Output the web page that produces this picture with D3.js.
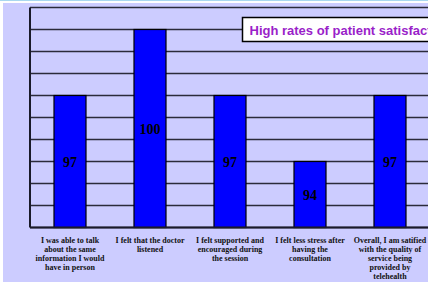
<!DOCTYPE html>
<html>
<head>
<meta charset="utf-8">
<script src="https://cdn.jsdelivr.net/npm/d3@7"></script>
<style>
  body { margin: 0; background: #fff; }
  svg { display: block; }
</style>
</head>
<body>
<script>
// survey items (split into the lines shown under each bar)
const categories = [
  ["I was able to talk", "about the same", "information I would", "have in person"],
  ["I felt that the doctor", "listened"],
  ["I felt supported and", "encouraged during", "the session"],
  ["I felt less stress after", "having the", "consultation"],
  ["Overall, I am satified", "with the quality of", "service being", "provided by", "telehealth"]
];
const values = [97, 100, 97, 94, 97];
const yDomain = [91, 101];
const title = "High rates of patient satisfaction";

const width = 428, height = 282;
const plot = { left: 30, right: 430, top: 7.5, bottom: 227.5 };

const svg = d3.select("body").append("svg")
  .attr("width", width)
  .attr("height", height);

// page background
svg.append("rect").attr("width", width).attr("height", 1).attr("fill", "#a9d8ef");
svg.append("rect").attr("x", 3).attr("y", 3)
  .attr("width", width - 3).attr("height", height - 3)
  .attr("fill", "#ccccff");

const x = d3.scaleBand()
  .domain(d3.range(categories.length))
  .range([plot.left, plot.right])
  .paddingInner(0.6)
  .paddingOuter(0.3);

const y = d3.scaleLinear()
  .domain(yDomain)
  .range([plot.bottom, plot.top]);

// gridlines
svg.append("g")
  .selectAll("line")
  .data(y.ticks(10))
  .join("line")
  .attr("x1", plot.left)
  .attr("x2", width)
  .attr("y1", d => y(d))
  .attr("y2", d => y(d))
  .attr("stroke", "#2a2a3a")
  .attr("stroke-width", 1.5);

// bars
svg.append("g")
  .selectAll("rect")
  .data(values)
  .join("rect")
  .attr("x", (d, i) => x(i))
  .attr("y", d => y(d))
  .attr("width", x.bandwidth())
  .attr("height", d => y(yDomain[0]) - y(d))
  .attr("fill", "#0000ff")
  .attr("stroke", "#000")
  .attr("stroke-width", 1.2);

// axes lines
svg.append("line")
  .attr("x1", plot.left).attr("x2", plot.left)
  .attr("y1", plot.top).attr("y2", plot.bottom)
  .attr("stroke", "#1a1a2a").attr("stroke-width", 2);
svg.append("line")
  .attr("x1", plot.left).attr("x2", width)
  .attr("y1", plot.bottom).attr("y2", plot.bottom)
  .attr("stroke", "#1a1a2a").attr("stroke-width", 2);

// value labels in the middle of each bar
svg.append("g")
  .selectAll("text")
  .data(values)
  .join("text")
  .attr("x", (d, i) => x(i) + x.bandwidth() / 2)
  .attr("y", d => (y(d) + y(yDomain[0])) / 2 + 5)
  .attr("text-anchor", "middle")
  .attr("font-family", "Liberation Serif, serif")
  .attr("font-weight", "bold")
  .attr("font-size", 14)
  .attr("fill", "#000")
  .text(d => d);

// category labels
const cat = svg.append("g")
  .selectAll("text")
  .data(categories)
  .join("text")
  .attr("x", (d, i) => x(i) + x.bandwidth() / 2)
  .attr("y", 242.5)
  .attr("text-anchor", "middle")
  .attr("font-family", "Liberation Serif, serif")
  .attr("font-weight", "bold")
  .attr("font-size", 8)
  .attr("fill", "#111");
cat.selectAll("tspan")
  .data(d => d)
  .join("tspan")
  .attr("x", function () { return this.parentNode.getAttribute("x"); })
  .attr("dy", (d, i) => i === 0 ? 0 : 9.2)
  .text(d => d);

// title box (runs off the right edge as in the original)
svg.append("rect")
  .attr("x", 242.5).attr("y", 17.5)
  .attr("width", 200).attr("height", 24)
  .attr("fill", "#fff")
  .attr("stroke", "#000")
  .attr("stroke-width", 1.5);
svg.append("text")
  .attr("x", 249.5)
  .attr("y", 34.5)
  .attr("font-family", "Liberation Sans, Arial, sans-serif")
  .attr("font-weight", "bold")
  .attr("font-size", 13)
  .attr("fill", "#9a1fc9")
  .text(title);
</script>
</body>
</html>
